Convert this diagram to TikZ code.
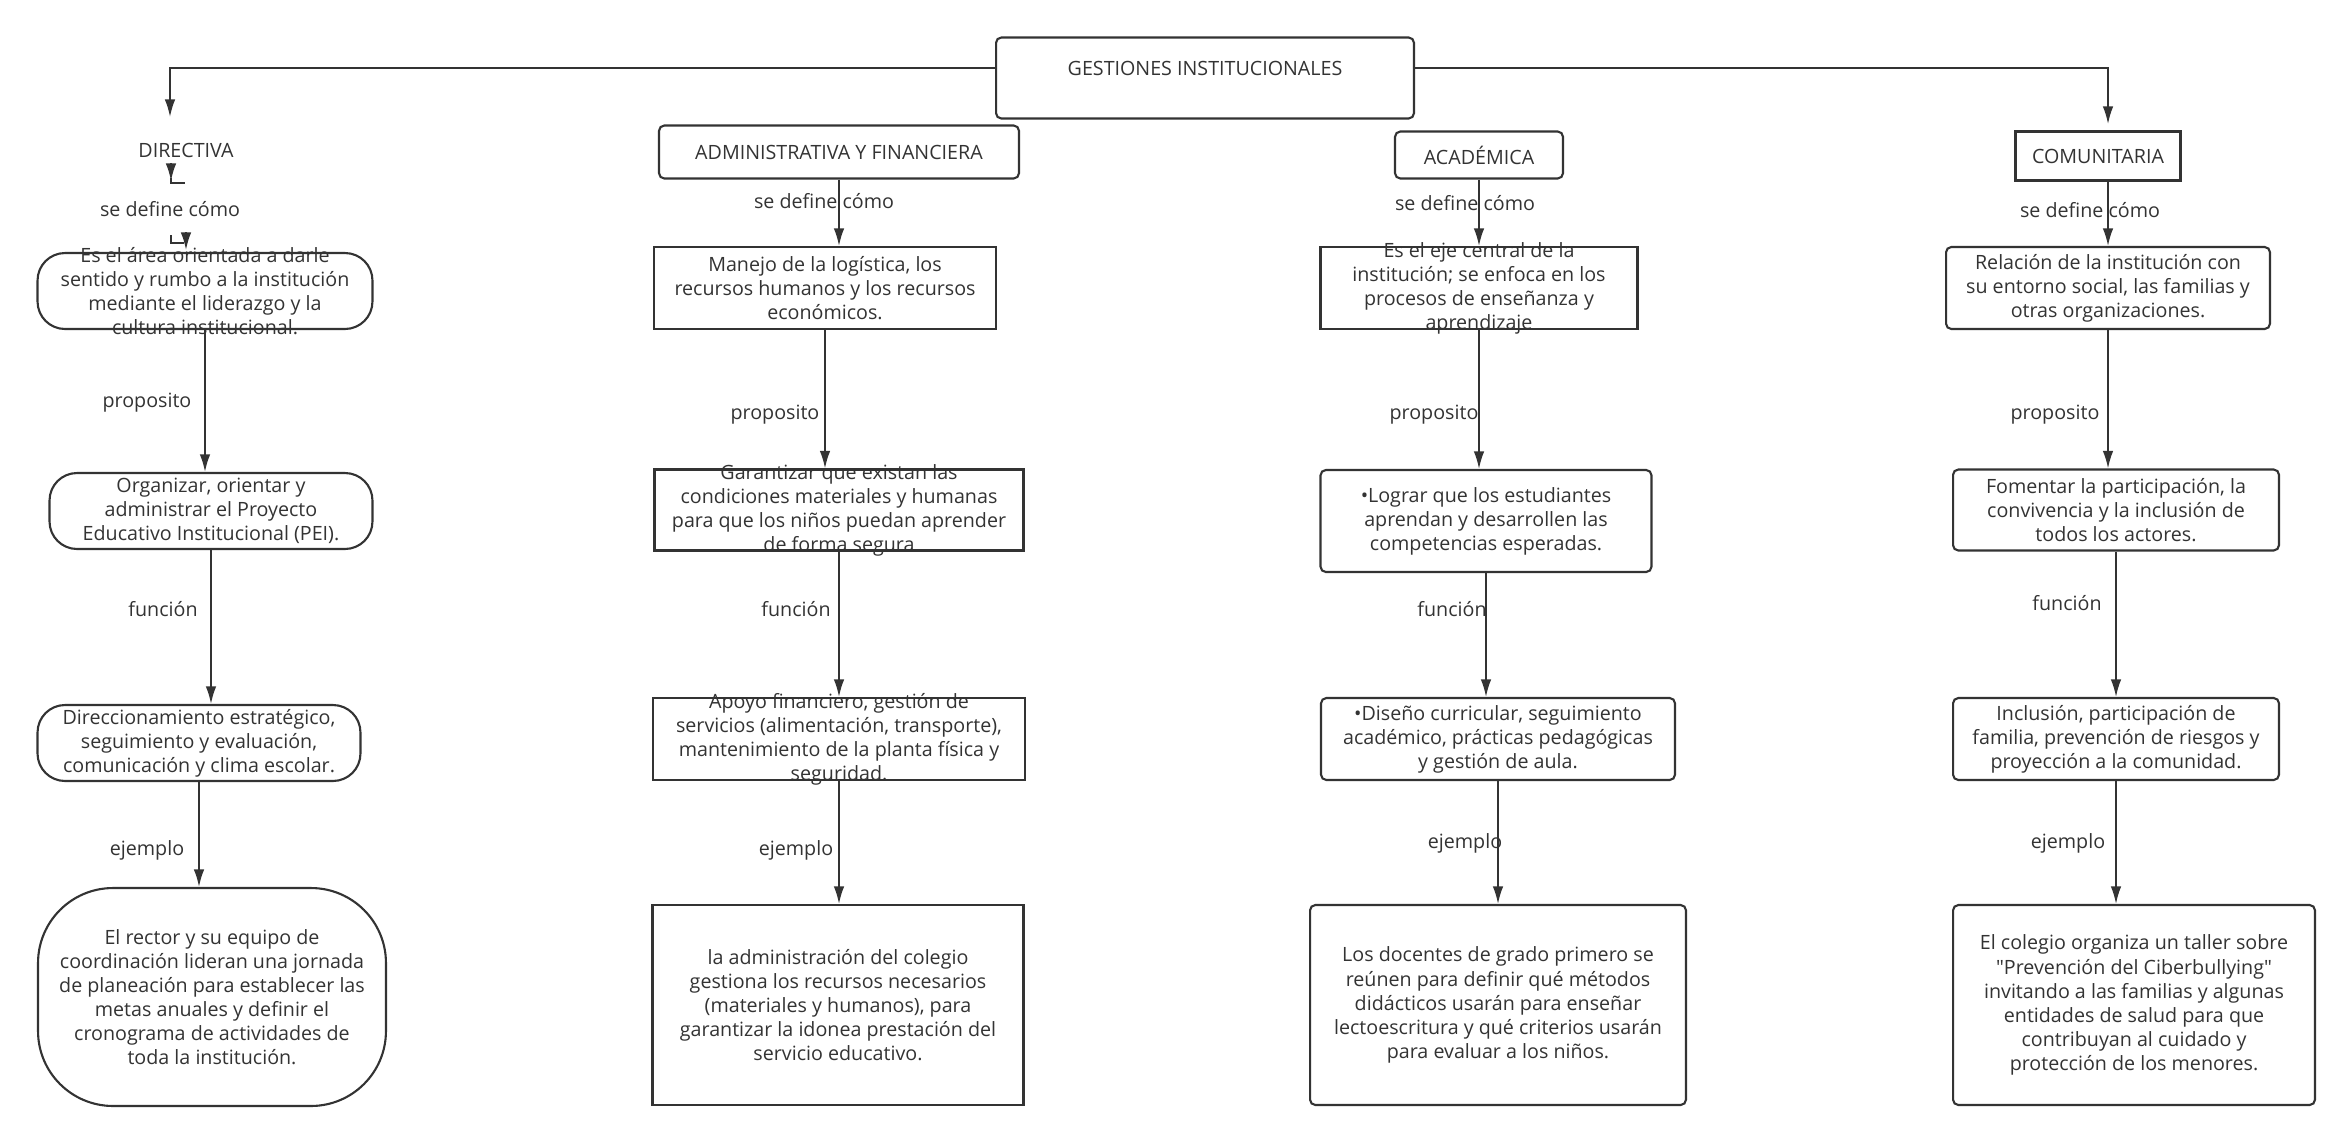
\documentclass[tikz,border=0pt]{standalone}
\usepackage{fontspec}
\setmainfont{Open Sans}[Ligatures=TeXOff]
\usepackage{tikz}
\usetikzlibrary{arrows.meta}

\begin{document}
\begin{tikzpicture}[x=0.02cm, y=-0.02cm, font=\fontsize{11.2}{13.7}\selectfont]
		% --- Parámetros: coordenadas en píxeles (x a la derecha, y hacia abajo) ---
		\definecolor{trazo}{RGB}{51,51,51}
		\tikzset{caja/.style={draw=trazo, text=trazo, line width=1.2pt, align=center, inner xsep=0pt, inner ysep=-30pt},
			suave/.style={caja, rounded corners=3pt},
			capsula/.style={caja, rounded corners=0.55cm},
			flecha/.style={draw=trazo, line width=1pt, -{Latex[length=10pt,width=6pt]}},
			linea/.style={draw=trazo, line width=1pt},
			etiq/.style={text=trazo, inner sep=1pt}}
		\useasboundingbox (0,0) rectangle (2352,1143);

		% --- Raíz ---
		\node[suave, minimum width=8.36cm, minimum height=1.62cm] (g) at (1205,78) {};
		\node[etiq] (tit) at (1205,68) {GESTIONES INSTITUCIONALES};
		\coordinate (pdir) at (170,117);
		\coordinate (pcom) at (2108,124);
		\draw[flecha] (tit -| g.west) -| (pdir);
		\draw[flecha] (tit -| g.east) -| (pcom);

		% --- Columna 1: directiva ---
		\node[etiq] (dir) at (186,150) {DIRECTIVA};
		\node[capsula, minimum width=6.7cm, minimum height=1.52cm] (b1) at (205,291) {Es el área orientada a darle\\sentido y rumbo a la institución\\mediante el liderazgo y la\\cultura institucional.};
		\node[capsula, minimum width=6.46cm, minimum height=1.52cm] (b2) at (211,511) {Organizar, orientar y\\administrar el Proyecto\\Educativo Institucional (PEI).};
		\node[capsula, minimum width=6.46cm, minimum height=1.52cm] (b3) at (199,743) {Direccionamiento estratégico,\\seguimiento y evaluación,\\comunicación y clima escolar.};
		\node[caja, rounded corners=1.5cm, minimum width=6.96cm, minimum height=4.36cm] (b4) at (212,997) {El rector y su equipo de\\coordinación lideran una jornada\\de planeación para establecer las\\metas anuales y definir el\\cronograma de actividades de\\toda la institución.};
		% conector roto bajo DIRECTIVA
		\coordinate (s1a) at (171,163); \coordinate (s1b) at (171,181);
		\coordinate (s1c) at (171,178); \coordinate (s1d) at (185,183);
		\coordinate (s2a) at (171,235); \coordinate (s2b) at (184,243);
		\coordinate (s2c) at (186,232); \coordinate (s2d) at (186,250);
		\draw[flecha] (s1a) -- (s1b);
		\draw[linea] (s1c) |- (s1d);
		\draw[linea] (s2a) |- (s2b);
		\draw[flecha] (s2c) -- (s2d);

		% --- Columna 2: administrativa y financiera ---
		\node[suave, minimum width=7.2cm, minimum height=1.06cm] (adm) at (839,152) {ADMINISTRATIVA Y FINANCIERA};
		\node[caja, minimum width=6.84cm, minimum height=1.64cm] (m1) at (825,288) {Manejo de la logística, los\\recursos humanos y los recursos\\económicos.};
		\node[caja, minimum width=7.38cm, minimum height=1.62cm] (m2) at (839,510) {Garantizar que existan las\\condiciones materiales y humanas\\para que los niños puedan aprender\\de forma segura};
		\node[caja, minimum width=7.44cm, minimum height=1.64cm] (m3) at (839,739) {Apoyo financiero, gestión de\\servicios (alimentación, transporte),\\mantenimiento de la planta física y\\seguridad.};
		\node[caja, minimum width=7.42cm, minimum height=4.0cm] (m4) at (838,1005) {la administración del colegio\\gestiona los recursos necesarios\\(materiales y humanos), para\\garantizar la idonea prestación del\\servicio educativo.};

		% --- Columna 3: académica ---
		\node[suave, minimum width=3.36cm, minimum height=0.94cm] (aca) at (1479,155) {ACADÉMICA};
		\node[caja, minimum width=6.34cm, minimum height=1.64cm] (e1) at (1479,288) {Es el eje central de la\\institución; se enfoca en los\\procesos de enseñanza y\\aprendizaje};
		\node[suave, minimum width=6.62cm, minimum height=2.04cm] (e2) at (1486,521) {•Lograr que los estudiantes\\aprendan y desarrollen las\\competencias esperadas.};
		\node[suave, minimum width=7.08cm, minimum height=1.64cm] (e3) at (1498,739) {•Diseño curricular, seguimiento\\académico, prácticas pedagógicas\\y gestión de aula.};
		\node[suave, minimum width=7.52cm, minimum height=4.0cm] (e4) at (1498,1005) {Los docentes de grado primero se\\reúnen para definir qué métodos\\didácticos usarán para enseñar\\lectoescritura y qué criterios usarán\\para evaluar a los niños.};

		% --- Columna 4: comunitaria ---
		\node[caja, minimum width=3.3cm, minimum height=0.98cm] (com) at (2098,156) {COMUNITARIA};
		\node[suave, minimum width=6.48cm, minimum height=1.64cm] (r1) at (2108,288) {Relación de la institución con\\su entorno social, las familias y\\otras organizaciones.};
		\node[suave, minimum width=6.52cm, minimum height=1.62cm] (r2) at (2116,510) {Fomentar la participación, la\\convivencia y la inclusión de\\todos los actores.};
		\node[suave, minimum width=6.52cm, minimum height=1.64cm] (r3) at (2116,739) {Inclusión, participación de\\familia, prevención de riesgos y\\proyección a la comunidad.};
		\node[suave, minimum width=7.24cm, minimum height=4.0cm] (r4) at (2134,1005) {El colegio organiza un taller sobre\\"Prevención del Ciberbullying"\\invitando a las familias y algunas\\entidades de salud para que\\contribuyan al cuidado y\\protección de los menores.};

		% --- Etiquetas de los conectores ---
		\foreach \x/\y/\t [count=\i] in {%
			170/209/se define cómo, 147/403/proposito, 163/609/función, 147/850/ejemplo,
			824/201/se define cómo, 775/415/proposito, 796/609/función, 796/850/ejemplo,
			1465/203/se define cómo, 1434/415/proposito, 1452/609/función, 1465/843/ejemplo,
			2090/210/se define cómo, 2055/415/proposito, 2067/603/función, 2068/843/ejemplo}
			\node[etiq] (et\i) at (\x,\y) {\t};

		% --- Conectores ---
		\foreach \a/\b in {b1/b2, b2/b3, b3/b4, adm/m1, m1/m2, m2/m3, m3/m4,
			aca/e1, e1/e2, e2/e3, e3/e4, r1/r2, r2/r3, r3/r4}
			\draw[flecha] (\a.south) -- (\a.south |- \b.north);
		\draw[flecha] (com.south -| r1.north) -- (r1.north);
	\end{tikzpicture}
\end{document}
